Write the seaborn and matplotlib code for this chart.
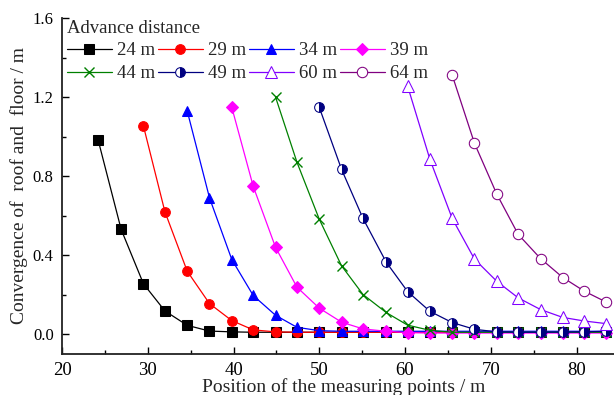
import matplotlib
matplotlib.use("Agg")
import matplotlib.pyplot as plt
import seaborn as sns
import pandas as pd
from matplotlib.ticker import MultipleLocator

sns.set_theme(style="ticks")
plt.rcParams['font.family'] = ['Liberation Serif', 'DejaVu Serif']
plt.rcParams['mathtext.fontset'] = 'stix'

# measuring point positions (m)
positions = [24.2, 26.9, 29.5, 32.0, 34.6, 37.2, 39.8, 42.3, 44.9, 47.4, 50.0, 52.6,
             55.1, 57.8, 60.3, 62.9, 65.5, 68.1, 70.7, 73.2, 75.8, 78.4, 80.9, 83.4]

labels = ["24 m", "29 m", "34 m", "39 m", "44 m", "49 m", "60 m", "64 m"]
start_index = [0, 2, 4, 6, 8, 10, 14, 16]

conv_24 = [0.985, 0.53, 0.255, 0.118, 0.045, 0.016, 0.012, 0.010, 0.010, 0.010, 0.010, 0.010,
           0.010, 0.010, 0.010, 0.010, 0.010, 0.010, 0.010, 0.010, 0.010, 0.010, 0.010, 0.010]
conv_29 = [1.053, 0.62, 0.319, 0.155, 0.069, 0.022, 0.012, 0.010, 0.010, 0.010, 0.010,
           0.010, 0.010, 0.010, 0.010, 0.010, 0.010, 0.010, 0.010, 0.010, 0.010, 0.010]
conv_34 = [1.13, 0.69, 0.378, 0.196, 0.096, 0.035, 0.018, 0.015, 0.015, 0.015,
           0.015, 0.015, 0.015, 0.015, 0.015, 0.015, 0.015, 0.015, 0.015, 0.015]
conv_39 = [1.148, 0.748, 0.44, 0.238, 0.132, 0.061, 0.027, 0.015, 0.008,
           0.006, 0.006, 0.006, 0.006, 0.006, 0.006, 0.006, 0.006, 0.006]
conv_44 = [1.20, 0.87, 0.582, 0.346, 0.201, 0.11, 0.046, 0.02,
           0.010, 0.010, 0.010, 0.010, 0.010, 0.010, 0.010, 0.010]
conv_49 = [1.148, 0.834, 0.586, 0.365, 0.216, 0.116, 0.059,
           0.025, 0.012, 0.010, 0.010, 0.011, 0.012, 0.015]
conv_60 = [1.256, 0.885, 0.586, 0.38, 0.268, 0.184, 0.125, 0.085, 0.067, 0.054]
conv_64 = [1.311, 0.966, 0.709, 0.505, 0.383, 0.287, 0.218, 0.164]

series = [conv_24, conv_29, conv_34, conv_39, conv_44, conv_49, conv_60, conv_64]

colors = ["#000000", "#FF0000", "#0000FF", "#FF00FF", "#008000", "#000080", "#8000FF", "#800080"]
styles = [
    dict(marker="s", markerfacecolor="#000000", markersize=6.5),
    dict(marker="o", markerfacecolor="#FF0000", markersize=7),
    dict(marker="^", markerfacecolor="#0000FF", markersize=7.5),
    dict(marker="D", markerfacecolor="#FF00FF", markersize=6.5),
    dict(marker="x", markersize=7.5, markeredgewidth=1.0),
    dict(marker="o", markerfacecolor="#000080", fillstyle="right",
         markerfacecoloralt="white", markersize=7),
    dict(marker="^", markerfacecolor="white", markersize=8),
    dict(marker="o", markerfacecolor="white", markersize=7.5),
]

fig = plt.figure(figsize=(6.14, 3.95), dpi=100)
ax = fig.add_axes([62 / 614, 1 - 354 / 395, 1 - 62 / 614 + 0.02, (354 - 18) / 395])

for lab, si, vals, col, st in zip(labels, start_index, series, colors, styles):
    df = pd.DataFrame({"x": positions[si:si + len(vals)], "y": vals})
    sns.lineplot(data=df, x="x", y="y", ax=ax, color=col, linewidth=0.9,
                 markeredgecolor=col, label=lab, **st)

ax.set_xlim(20, 84.37 + 0.02 * 614 / 8.58)
ax.set_ylim(-0.1, 1.6)
ax.xaxis.set_major_locator(MultipleLocator(10))
ax.xaxis.set_minor_locator(MultipleLocator(5))
ax.yaxis.set_major_locator(MultipleLocator(0.4))
ax.yaxis.set_minor_locator(MultipleLocator(0.2))
ax.yaxis.set_major_formatter(matplotlib.ticker.FormatStrFormatter("%.1f"))
ax.tick_params(which="both", direction="in", width=1.0, colors="#000000")
ax.tick_params(axis="x", labelsize=13.5)
ax.tick_params(axis="y", labelsize=12)
ax.tick_params(which="major", length=5, pad=6)
ax.tick_params(which="minor", length=3)
for s in ["top", "right"]:
    ax.spines[s].set_visible(False)
for s in ["left", "bottom"]:
    ax.spines[s].set_linewidth(1.3)
    ax.spines[s].set_color("#222222")

ax.set_xlabel("Position of the measuring points / m", fontsize=14, labelpad=-1)
ax.set_ylabel("Convergence of  roof and  floor / m", fontsize=14, labelpad=3)

h, l = ax.get_legend_handles_labels()
order = [0, 4, 1, 5, 2, 6, 3, 7]
leg = ax.legend([h[i] for i in order], [l[i] for i in order], ncol=4,
                title="Advance distance", loc="upper left",
                bbox_to_anchor=(0.003, 1.006), borderaxespad=0, borderpad=0.2,
                frameon=False, fontsize=13.5, title_fontsize=13.5,
                handlelength=2.35, handletextpad=0.27, columnspacing=0.2,
                labelspacing=0.3, alignment="left")

fig.savefig("out.png", dpi=100)
